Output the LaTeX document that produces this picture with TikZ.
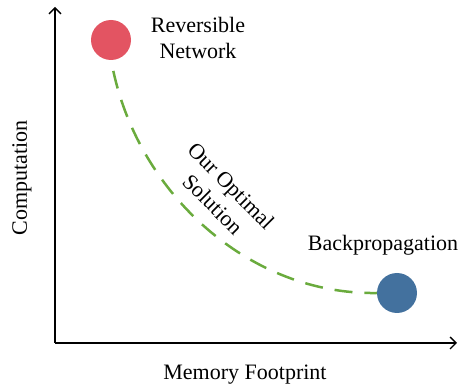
\documentclass[tikz,border=0pt]{standalone}
\usepackage{fontspec}
\setmainfont{Liberation Serif}
\usetikzlibrary{arrows.meta}
\definecolor{redc}{HTML}{E35462}
\definecolor{bluec}{HTML}{43719E}
\definecolor{greenc}{HTML}{6AAB3D}
\begin{document}
\begin{tikzpicture}[x=1pt,y=-1pt,
  lbl/.style={font=\fontsize{22}{26}\selectfont, align=center, inner sep=0pt},
  axisline/.style={line width=1.4pt, -{Straight Barb[length=6pt,width=12pt,line width=1.4pt]}},
  dot/.style={circle, minimum size=40pt, inner sep=0pt}]
\useasboundingbox (0,0) rectangle (459,385);
\coordinate (origin) at (55,343);
\coordinate (ytop) at (55,7);
\coordinate (xend) at (457,343);
\draw[axisline] (origin) -- (ytop);
\draw[axisline] (origin) -- (xend);
\node[dot, fill=redc] (rev) at (111,40) {};
\node[dot, fill=bluec] (bp) at (397,293) {};
\draw[greenc, line width=2.5pt, dash pattern=on 18pt off 12pt, shorten <=11pt]
  (rev.south) .. controls (140,195) and (250,295) .. (bp.west);
\node[lbl] (revlbl) at (198,38) {Reversible\\Network};
\node[lbl] (bplbl) at (383,245) {Backpropagation};
\node[lbl, rotate=-45] (opt) at (222,195) {Our Optimal\\Solution};
\node[lbl] (xlbl) at (245,375) {Memory Footprint};
\node[lbl, rotate=90] (ylbl) at (22,178) {Computation};
\end{tikzpicture}
\end{document}
